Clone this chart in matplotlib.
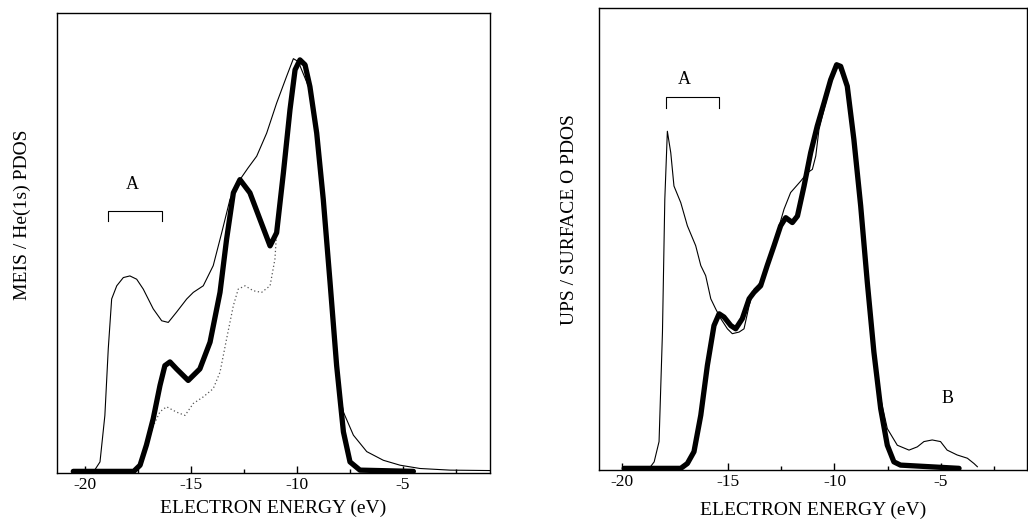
import numpy as np
import matplotlib
matplotlib.use('Agg')
import matplotlib.pyplot as plt
from matplotlib.ticker import MultipleLocator


# left panel: MEIS / He(1s) PDOS
meis_thin_x = [-20.55, -19.8, -19.53, -19.29, -19.06, -18.9, -18.74, -18.5, -18.19, -17.88, -17.56,
               -17.25, -16.78, -16.38, -16.07, -15.68, -15.2, -14.89, -14.42, -13.95, -13.55,
               -13.16, -12.69, -12.3, -11.9, -11.43, -10.96, -10.49, -10.17, -9.94, -9.39,
               -8.92, -8.52, -8.29, -8.13, -7.81, -7.34, -6.71, -5.93, -5.14, -4.2, -2.78, -0.9]
meis_thin_y = [0.0, 0.0, 0.004, 0.023, 0.136, 0.298, 0.419, 0.451, 0.471, 0.475, 0.467,
               0.443, 0.395, 0.366, 0.362, 0.387, 0.419, 0.435, 0.451, 0.5, 0.58,
               0.661, 0.709, 0.738, 0.766, 0.822, 0.895, 0.96, 1.003, 0.996, 0.927,
               0.758, 0.5, 0.338, 0.233, 0.144, 0.088, 0.048, 0.027, 0.015, 0.007, 0.003, 0.002]

meis_thick_x = [-20.55, -17.7, -17.4, -17.1, -16.78, -16.46, -16.23, -15.99, -15.68, -15.13,
                -14.58, -14.1, -13.63, -13.32, -13.0, -12.69, -12.22, -11.75, -11.27, -10.96,
                -10.64, -10.33, -10.09, -9.86, -9.62, -9.39, -9.07, -8.76, -8.44, -8.13,
                -7.81, -7.5, -7.03, -4.51]
meis_thick_y = [0.0, 0.0, 0.015, 0.064, 0.128, 0.209, 0.257, 0.266, 0.249, 0.221,
                0.249, 0.314, 0.435, 0.564, 0.677, 0.709, 0.677, 0.613, 0.548, 0.58,
                0.726, 0.879, 0.976, 1.0, 0.988, 0.935, 0.822, 0.661, 0.459, 0.257,
                0.096, 0.023, 0.003, 0.0]

meis_dot_x = [-17.7, -17.4, -17.1, -16.78, -16.46, -16.15, -15.68, -15.28, -14.89, -14.42,
              -13.95, -13.63, -13.32, -13.0, -12.77, -12.45, -12.06, -11.67, -11.27, -11.04,
              -10.96, -10.64, -10.33, -10.09, -9.86, -9.6, -9.35, -9.03, -8.72, -8.4,
              -8.08, -7.76, -7.45, -7.0]
meis_dot_y = [0.0, 0.015, 0.06, 0.11, 0.145, 0.157, 0.144, 0.136, 0.165, 0.181,
              0.201, 0.241, 0.322, 0.403, 0.443, 0.451, 0.439, 0.435, 0.451, 0.516,
              0.58, 0.726, 0.879, 0.976, 1.0, 0.99, 0.935, 0.822, 0.661, 0.459,
              0.257, 0.096, 0.023, 0.0]

# right panel: UPS / surface O PDOS
ups_thin_x = [-19.88, -18.7, -18.47, -18.24, -18.08, -17.97, -17.85, -17.69, -17.54, -17.22,
              -16.91, -16.52, -16.28, -16.05, -15.81, -15.58, -15.34, -15.03, -14.8, -14.48,
              -14.25, -14.01, -13.78, -13.47, -13.16, -12.69, -12.37, -12.06, -11.59, -11.27,
              -11.04, -10.88, -10.73, -10.49, -10.1, -9.9, -9.4, -8.93, -8.46, -8.07,
              -7.83, -7.52, -7.05, -6.5, -6.11, -5.8, -5.41, -5.02, -4.71, -4.24,
              -3.76, -3.45, -3.29]
ups_thin_y = [0.0, 0.0, 0.016, 0.066, 0.336, 0.663, 0.831, 0.778, 0.696, 0.655,
              0.598, 0.549, 0.5, 0.475, 0.418, 0.393, 0.369, 0.344, 0.332, 0.336,
              0.344, 0.401, 0.442, 0.459, 0.5, 0.581, 0.639, 0.68, 0.708, 0.729,
              0.737, 0.77, 0.835, 0.885, 0.966, 0.999, 0.942, 0.762, 0.475, 0.254,
              0.172, 0.098, 0.057, 0.045, 0.053, 0.066, 0.07, 0.066, 0.045, 0.033,
              0.025, 0.012, 0.004]

ups_thick_x = [-19.88, -17.22, -16.91, -16.6, -16.28, -15.97, -15.66, -15.42, -15.19, -14.87,
               -14.64, -14.33, -14.01, -13.78, -13.47, -13.16, -12.84, -12.53, -12.29, -11.98,
               -11.74, -11.43, -11.12, -10.81, -10.49, -10.18, -9.9, -9.71, -9.4, -9.09,
               -8.77, -8.46, -8.15, -7.83, -7.52, -7.21, -6.9, -4.15]
ups_thick_y = [0.0, 0.0, 0.012, 0.041, 0.131, 0.254, 0.352, 0.381, 0.373, 0.352,
               0.344, 0.369, 0.418, 0.434, 0.45, 0.5, 0.549, 0.598, 0.618, 0.606,
               0.622, 0.696, 0.778, 0.844, 0.901, 0.958, 0.995, 0.991, 0.942, 0.811,
               0.647, 0.459, 0.287, 0.147, 0.057, 0.016, 0.008, 0.0]

x_ticks = [-20, -15, -10, -5]
x_tick_labels = ['-20', '-15', '-10', '-5']


plt.rcParams['font.family'] = ['Liberation Serif', 'DejaVu Serif']
plt.rcParams['axes.unicode_minus'] = False


def _style_axis(ax, xlim, ylim, ylabel, ylabel_pos, xlabel_y):
    
    ax.set_xlim(*xlim)
    ax.set_ylim(*ylim)
    ax.set_yticks([])
    ax.set_xticks(x_ticks)
    ax.set_xticklabels(x_tick_labels)
    ax.xaxis.set_minor_locator(MultipleLocator(2.5))
    ax.tick_params(axis='x', which='major', direction='in', length=5, width=1, labelsize=12.5, pad=3)
    ax.tick_params(axis='x', which='minor', direction='in', length=3, width=1)
    
    for side in ax.spines.values():
        
        side.set_linewidth(1.0)
    
    ax.set_ylabel(ylabel, fontsize=14)
    ax.yaxis.label.set_va('center')
    ax.yaxis.set_label_coords(*ylabel_pos)
    ax.set_xlabel('ELECTRON ENERGY (eV)', fontsize=14)
    ax.xaxis.label.set_va('center')
    ax.xaxis.set_label_coords(0.5, xlabel_y)
    
    return


def _bracket(ax, x0, x1, y_top, y_low, label_xy):
    
    ax.plot([x0, x0, x1, x1], [y_low, y_top, y_top, y_low], color='black', linewidth=0.8)
    ax.text(label_xy[0], label_xy[1], 'A', fontsize=13, ha='center', va='center')
    
    return


fig = plt.figure(figsize=(10.28, 5.24), dpi=100)
ax_l = fig.add_axes([0.0554, 0.0973, 0.4212, 0.8779])
ax_r = fig.add_axes([0.5827, 0.1031, 0.4163, 0.8817])

ax_l.plot(meis_dot_x, meis_dot_y, color='#555555', linestyle=(0, (1, 2)), linewidth=0.9)
ax_l.plot(meis_thin_x, meis_thin_y, color='black', linewidth=0.8)
ax_l.plot(meis_thick_x, meis_thick_y, color='black', linewidth=3.8,
          solid_joinstyle='round', solid_capstyle='round')
_bracket(ax_l, -18.92, -16.37, 0.632, 0.608, (-17.78, 0.697))
_style_axis(ax_l, (-21.32, -0.9), (-0.004, 1.114), 'MEIS / He(1s) PDOS', (-0.081, 0.561), -0.076)

ax_r.plot(ups_thin_x, ups_thin_y, color='black', linewidth=0.8)
ax_r.plot(ups_thick_x, ups_thick_y, color='black', linewidth=3.8,
          solid_joinstyle='round', solid_capstyle='round')
_bracket(ax_r, -17.93, -15.42, 0.915, 0.889, (-17.07, 0.958))
ax_r.text(-4.7, 0.172, 'B', fontsize=13, ha='center', va='center')
_style_axis(ax_r, (-21.06, -0.96), (-0.004, 1.135), 'UPS / SURFACE O PDOS', (-0.070, 0.543), -0.087)

fig.savefig('out.png', dpi=100)
plt.close(fig)
